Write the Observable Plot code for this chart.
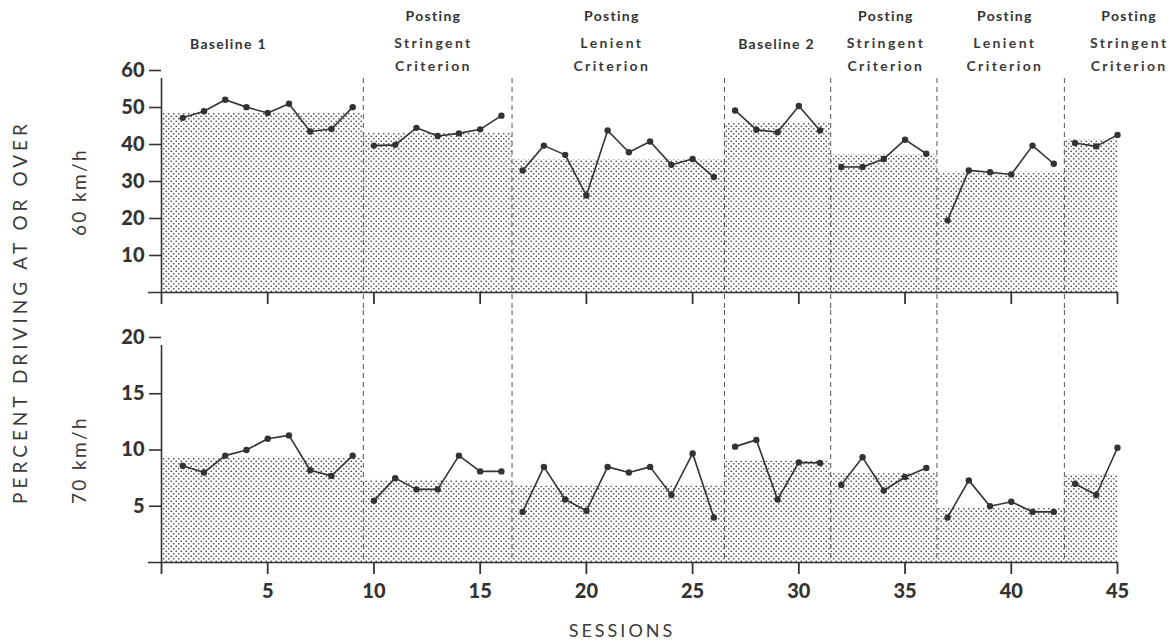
<!DOCTYPE html>
<html>
<head>
<meta charset="utf-8">
<script src="https://cdn.jsdelivr.net/npm/d3@7"></script>
<script src="https://cdn.jsdelivr.net/npm/@observablehq/plot@0.6"></script>
<style>
  html, body { margin: 0; padding: 0; background: #fff; }
  #chart { position: relative; width: 1173px; height: 644px; overflow: hidden; font-family: Lato, "Open Sans", sans-serif; color: #333; }
  #chart svg { position: absolute; left: 0; }
  .lbl { position: absolute; white-space: nowrap; transform: translate(-50%, -50%); color: #3a3a3a; }
  .rot { transform: translate(-50%, -50%) rotate(-90deg); }
</style>
</head>
<body>
<div id="chart"></div>
<script>
// ---------- data ----------
const sessions = d3.range(1, 46);
const pct60 = [47.2, 49, 52.1, 50.1, 48.5, 51, 43.5, 44.2, 50.1,
               39.7, 39.9, 44.5, 42.3, 43, 44.1, 47.8,
               33, 39.7, 37.2, 26.2, 43.8, 37.9, 40.8, 34.5, 36.1, 31.2,
               49.2, 44, 43.3, 50.4, 43.8,
               33.9, 33.9, 36.1, 41.3, 37.5,
               19.5, 33, 32.5, 31.9, 39.7, 34.8,
               40.4, 39.5, 42.6];
const pct70 = [8.6, 8.0, 9.5, 10.0, 11.0, 11.3, 8.2, 7.7, 9.5,
               5.5, 7.5, 6.5, 6.5, 9.5, 8.1, 8.1,
               4.5, 8.5, 5.6, 4.6, 8.5, 8.0, 8.5, 6.0, 9.7, 4.0,
               10.3, 10.9, 5.6, 8.9, 8.85,
               6.9, 9.35, 6.4, 7.6, 8.4,
               4.0, 7.3, 5.0, 5.4, 4.5, 4.5,
               7.0, 6.0, 10.2];
const phaseFirstSession = [1, 10, 17, 27, 32, 37, 43];
const phaseStart = [0, 9.5, 16.5, 26.5, 31.5, 36.5, 42.5];
const phaseEnd = [9.5, 16.5, 26.5, 31.5, 36.5, 42.5, 45];
const mean60 = [48.5, 43, 35.9, 46, 37.3, 32.5, 41.3];
const mean70 = [9.35, 7.3, 6.8, 9.0, 7.9, 4.9, 7.8];
const phaseTitle = ["Baseline 1", "Posting", "Posting", "Baseline 2", "Posting", "Posting", "Posting"];
const phaseCriterion = ["", "Stringent\nCriterion", "Lenient\nCriterion", "", "Stringent\nCriterion", "Lenient\nCriterion", "Stringent\nCriterion"];
const phaseLabelX = [3.15, 12.8, 21.2, 28.95, 34.1, 39.7, 45.55];
const boundaries = [9.5, 16.5, 26.5, 31.5, 36.5, 42.5];
const xTicks = [0, 5, 10, 15, 20, 25, 30, 35, 40, 45];
const yTicks60 = [10, 20, 30, 40, 50, 60];
const yTicks70 = [5, 10, 15, 20];

// ---------- tables ----------
const phaseOf = s => d3.bisectRight(phaseFirstSession, s) - 1;
const rows60 = sessions.map((s, i) => ({session: s, value: pct60[i], phase: phaseOf(s)}));
const rows70 = sessions.map((s, i) => ({session: s, value: pct70[i], phase: phaseOf(s)}));
const phases = phaseStart.map((s, i) => ({
  start: s, end: phaseEnd[i], m60: mean60[i], m70: mean70[i],
  title: phaseTitle[i], crit: phaseCriterion[i], lx: phaseLabelX[i]
}));

const ink = "#333";
const W = 1173, mL = 161, mR = W - 1117;

function addPattern(svg, id) {
  const defs = d3.select(svg).insert("defs", ":first-child");
  const p = defs.append("pattern").attr("id", id).attr("width", 5).attr("height", 5)
    .attr("patternUnits", "userSpaceOnUse");
  p.append("circle").attr("cx", 1.25).attr("cy", 1.25).attr("r", 0.85).attr("fill", "#444");
  p.append("circle").attr("cx", 3.75).attr("cy", 3.75).attr("r", 0.85).attr("fill", "#444");
}

function panel({rows, meanKey, yDomain, yTicks, height, marginTop, marginBottom, patternId, top, labels, ruleInsetTop, ruleInsetBottom, tickLabels}) {
  const marks = [
    Plot.rectY(phases, {x1: "start", x2: "end", y: meanKey, fill: `url(#${patternId})`}),
    Plot.ruleX(boundaries, {stroke: "#555", strokeWidth: 1, strokeDasharray: "5,4", insetTop: ruleInsetTop, insetBottom: ruleInsetBottom}),
    Plot.line(rows, {x: "session", y: "value", z: "phase", stroke: ink, strokeWidth: 1.6}),
    Plot.dot(rows, {x: "session", y: "value", r: 3.2, fill: ink}),
    Plot.ruleY([0], {x1: 0, x2: 45, stroke: ink, strokeWidth: 1.6, insetLeft: -13}),
    Plot.ruleX([0], {y1: 0, y2: yDomain[1], stroke: ink, strokeWidth: 1.6, insetBottom: -8}),
    Plot.axisY({ticks: yTicks, tickSize: 12, tickPadding: 5, label: null, stroke: ink, strokeWidth: 1.6,
                fontSize: 20, fontWeight: 900, fill: ink}),
    Plot.axisX({ticks: xTicks, tickSize: 12, tickPadding: 9, label: null, stroke: ink, strokeWidth: 1.8,
                tickFormat: tickLabels ? (d => d === 0 ? "" : String(d)) : (() => ""),
                fontSize: 20, fontWeight: 900, fill: ink})
  ];
  if (labels) {
    marks.push(
      Plot.text(phases.filter(p => p.crit === ""), {x: "lx", text: "title", frameAnchor: "top", dy: -26,
        lineAnchor: "middle", fontSize: 14, fontWeight: "bold", fill: ink}),
      Plot.text(phases.filter(p => p.crit !== ""), {x: "lx", text: "title", frameAnchor: "top", dy: -54,
        lineAnchor: "middle", fontSize: 14, fontWeight: "bold", fill: ink}),
      Plot.text(phases.filter(p => p.crit !== ""), {x: "lx", text: "crit", frameAnchor: "top", dy: -18,
        lineAnchor: "middle", lineHeight: 1.6, fontSize: 14, fontWeight: "bold", fill: "#3a3a3a"})
    );
  }
  const svg = Plot.plot({
    width: W, height, marginLeft: mL, marginRight: mR, marginTop, marginBottom,
    x: {domain: [0, 45], axis: null},
    y: {domain: yDomain, axis: null},
    style: {background: "transparent", color: ink, fontFamily: "Lato, 'Open Sans', sans-serif", fontSize: "19px", overflow: "visible"},
    marks
  });
  addPattern(svg, patternId);
  d3.select(svg).selectAll("text").filter(function () {
    return /Stringent|Lenient|Criterion/.test(this.textContent);
  }).style("letter-spacing", "2.4px");
  d3.select(svg).selectAll("text").filter(function () {
    return /Posting|Baseline/.test(this.textContent);
  }).style("letter-spacing", "1.3px");
  svg.style.top = top + "px";
  return svg;
}

const chart = document.getElementById("chart");
chart.appendChild(panel({rows: rows60, meanKey: "m60", yDomain: [0, 60], yTicks: yTicks60,
  height: 310, marginTop: 70, marginBottom: 18, patternId: "dots60", top: 0, labels: true,
  ruleInsetTop: 8, ruleInsetBottom: -18, tickLabels: false}));
chart.appendChild(panel({rows: rows70, meanKey: "m70", yDomain: [0, 20], yTicks: yTicks70,
  height: 334, marginTop: 27, marginBottom: 82, patternId: "dots70", top: 310, labels: false,
  ruleInsetTop: -27, ruleInsetBottom: 0, tickLabels: true}));

function addLabel(text, x, y, size, spacing, rotate) {
  const d = document.createElement("div");
  d.className = "lbl" + (rotate ? " rot" : "");
  d.textContent = text;
  d.style.left = x + "px";
  d.style.top = y + "px";
  d.style.fontSize = size + "px";
  d.style.letterSpacing = spacing + "px";
  chart.appendChild(d);
}
addLabel("PERCENT DRIVING AT OR OVER", 19, 312, 19, 4, true);
addLabel("60 km/h", 78, 192, 19, 2.4, true);
addLabel("70 km/h", 78, 460, 19, 2.4, true);
addLabel("SESSIONS", 622, 630, 18, 3, false);
</script>
</body>
</html>
